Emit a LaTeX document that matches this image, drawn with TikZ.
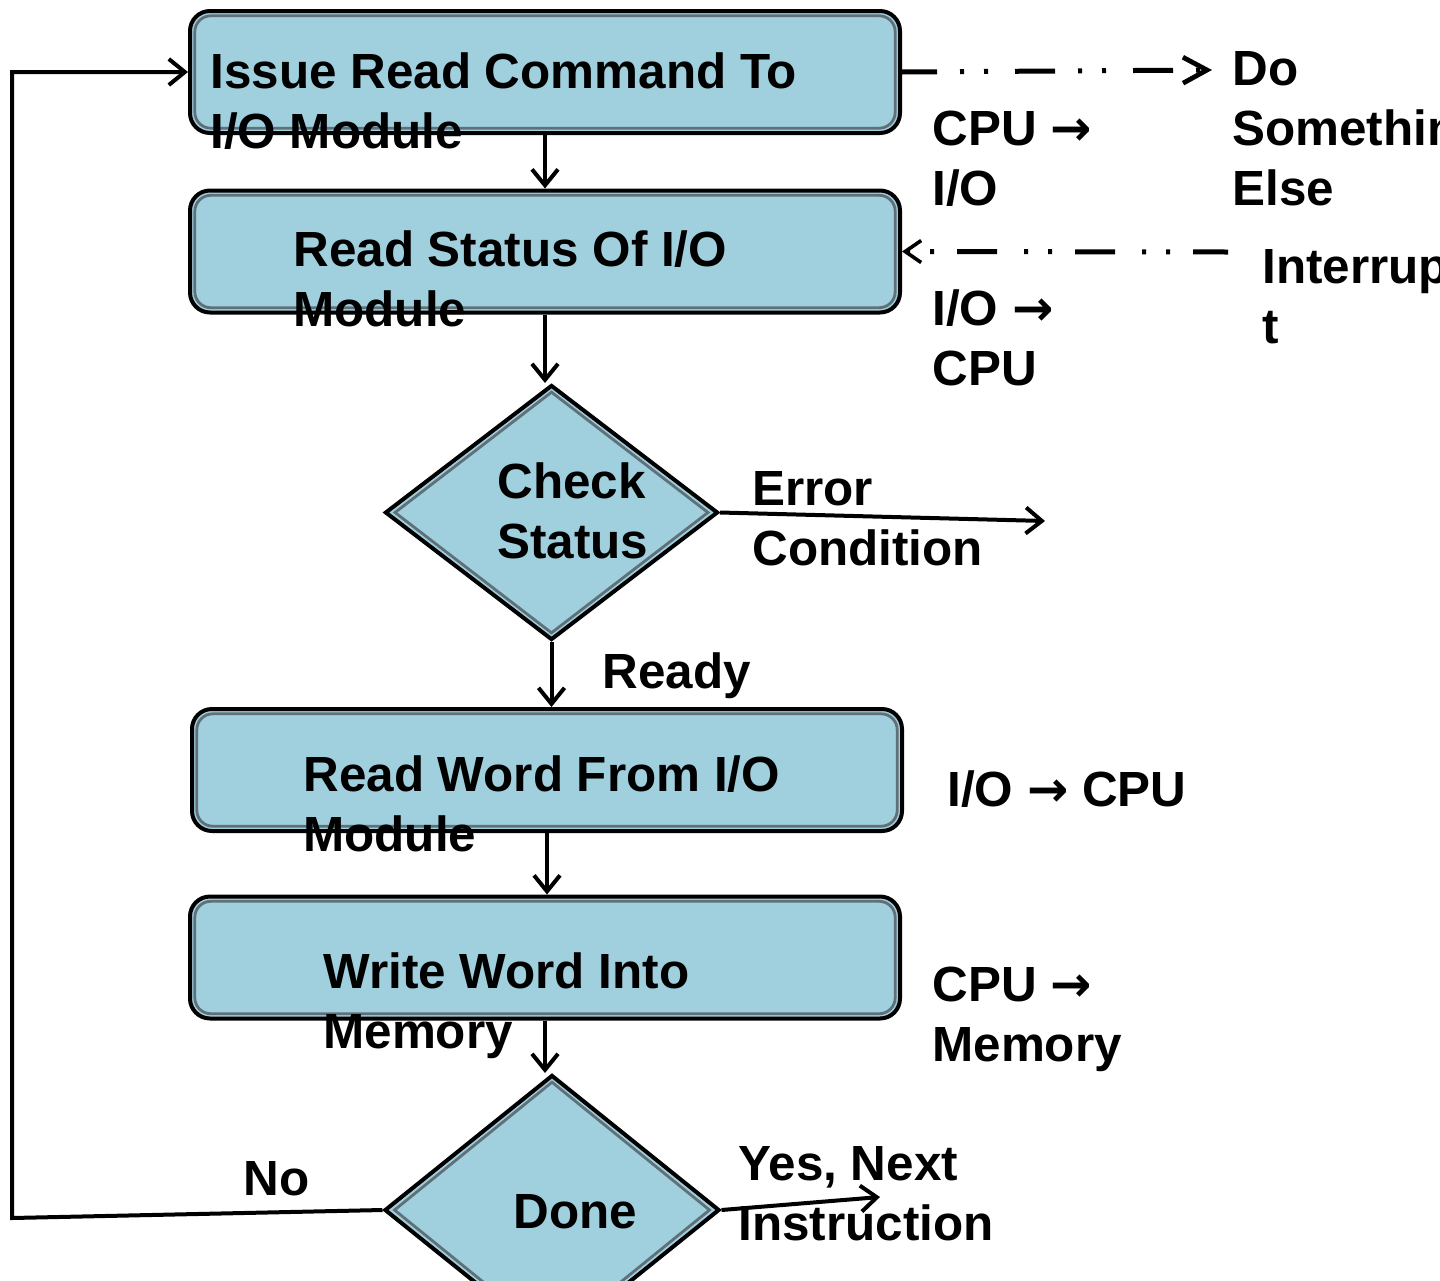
\documentclass[tikz,border=0pt]{standalone}
\usepackage{fontspec}
\setmainfont{Liberation Sans}
\newfontfamily\arrowfont{DejaVu Sans}
\newcommand\toarrow{{\arrowfont →}}
\usetikzlibrary{arrows.meta,shapes.geometric}
\definecolor{boxfill}{RGB}{160,207,222}
\definecolor{rimgray}{RGB}{95,112,120}

\begin{document}
\begin{tikzpicture}[x=0.5pt,y=-0.5pt,
  % multi-line labels are placed by the baseline of their last line
  lbl/.style={font=\fontsize{24.7}{30}\selectfont\bfseries, align=left,
    inner sep=0pt, anchor=base west},
  stepbox/.style={draw=black, line width=2pt, fill=boxfill,
    rounded corners=10pt, minimum width=355pt, minimum height=61pt,
    inner sep=0pt},
  decision/.style={diamond, draw=black, line width=2pt, fill=boxfill,
    inner sep=0pt},
  rim/.style={draw=rimgray, line width=1.4pt},
  flow/.style={line width=2pt, -{Straight Barb[length=8pt,width=13pt,line width=2pt]}},
  dashflow/.style={line width=2.5pt,
    dash pattern=on 20pt off 11.5pt on 2pt off 10pt on 2pt off 13.5pt,
    dash phase=2.5pt},
  bigtip/.style={-{Straight Barb[length=12pt,width=13pt,line width=2.4pt]}},
  smalltip/.style={-{Straight Barb[length=8pt,width=11pt,line width=1.8pt]}},
]
\clip (0,0) rectangle (1440,1280);
\fill[white] (0,0) rectangle (1440,1280);

% process boxes
\node[stepbox] (b1) at (545,72) {};
\node[stepbox] (b2) at (545,251.5) {};
\node[stepbox] (b3) at (547,770) {};
\node[stepbox] (b4) at (545,957.5) {};
\foreach \b in {b1,b2,b3,b4}{
  \draw[rim, rounded corners=8pt]
    ([shift={(3.4pt,-3.4pt)}]\b.north west) rectangle
    ([shift={(-3.4pt,3.4pt)}]\b.south east);
}

% decisions
\node[decision, minimum width=166.5pt, minimum height=127.5pt] (d1) at (551.5,512.5) {};
\node[decision, minimum width=167.5pt, minimum height=135pt] (d2) at (552,1210) {};
\foreach \d in {d1,d2}{
  \draw[rim]
    ([yshift=-4.6pt]\d.north) -- ([xshift=-6pt]\d.east) --
    ([yshift=4.6pt]\d.south) -- ([xshift=6pt]\d.west) -- cycle;
}

% free end points
\coordinate (errEnd) at (1045,521);
\coordinate (yesEnd) at (880,1197);
\coordinate (loopA) at (12,1218);
\coordinate (doEnd) at (1212,70);
\coordinate (intStart) at (1228,252);

% connectors
\draw[flow] (b1.south) -- (b2.north);
\draw[flow] (b2.south) -- (b2.south |- d1.north);
\draw[flow] (d1.south) -- (d1.south |- b3.north);
\draw[flow] (b3.south) -- (b3.south |- b4.north);
\draw[flow] (b4.south) -- (b4.south |- d2.north);
\draw[flow] (d1.east) -- (errEnd);
\draw[flow] (d2.east) -- (yesEnd);
\draw[flow] (d2.west) -- (loopA) |- (b1.west);
\draw[dashflow, bigtip] (b1.east) -- (doEnd);
\draw[dashflow, smalltip] (intStart) -- (b2.east);

% box texts
\node[lbl] (t1) at (210,148) {Issue Read Command To\\I/O Module};
\node[lbl] (t2) at (293,326) {Read Status Of I/O\\Module};
\node[lbl] (t3) at (303,851) {Read Word From I/O\\Module};
\node[lbl] (t4) at (323,1048) {Write Word Into\\Memory};
\node[lbl] (t5) at (497,558) {Check\\Status};
\node[lbl] (t6) at (513,1228) {Done};

% side labels
\node[lbl] (l1) at (932,205) {CPU \toarrow\\I/O};
\node[lbl] (l2) at (932,385) {I/O \toarrow\\CPU};
\node[lbl] (l3) at (947,806) {I/O \toarrow{} CPU};
\node[lbl] (l4) at (932,1061) {CPU \toarrow\\Memory};
\node[lbl] (l5) at (1232,205) {Do\\Something\\Else};
\node[lbl] (l6) at (1262,343) {Interrup\\t};
\node[lbl] (l7) at (752,565) {Error\\Condition};
\node[lbl] (l8) at (602,688) {Ready};
\node[lbl] (l9) at (243,1195) {No};
\node[lbl] (l10) at (738,1240) {Yes, Next\\Instruction};
\end{tikzpicture}
\end{document}
